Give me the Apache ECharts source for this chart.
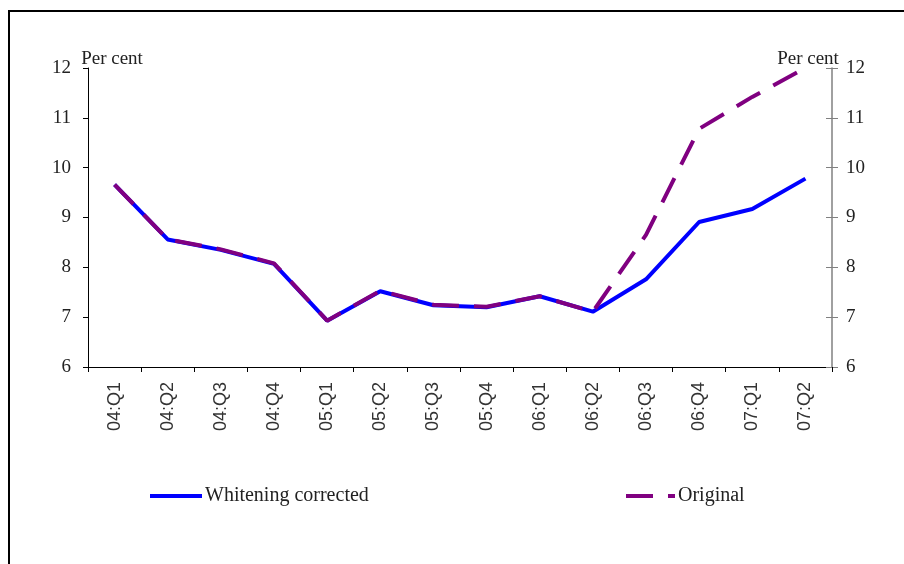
<!DOCTYPE html>
<html>
<head>
<meta charset="utf-8">
<script src="https://cdn.jsdelivr.net/npm/echarts@6/dist/echarts.min.js"></script>
<style>
html,body{margin:0;padding:0;background:#fff;}
#chart{width:904px;height:564px;}
</style>
</head>
<body>
<div id="chart"></div>
<script>
const categories = ['04:Q1','04:Q2','04:Q3','04:Q4','05:Q1','05:Q2','05:Q3','05:Q4','06:Q1','06:Q2','06:Q3','06:Q4','07:Q1','07:Q2'];
const whitening = [9.66, 8.56, 8.35, 8.07, 6.93, 7.52, 7.24, 7.2, 7.42, 7.11, 7.76, 8.91, 9.17, 9.78];
const original = [9.66, 8.56, 8.36, 8.08, 6.93, 7.53, 7.25, 7.21, 7.42, 7.11, 8.65, 10.78, 11.42, 12.0];
const yMin = 6, yMax = 12, yStep = 1;
const unitLabel = 'Per cent';
const seriesNames = ['Whitening corrected', 'Original'];

const serif = 'Liberation Serif';
const chart = echarts.init(document.getElementById('chart'), null, {renderer: 'canvas'});
const legendCommon = {
  itemHeight: 14, itemGap: 10,
  itemStyle: {opacity: 0, borderWidth: 0},
  lineStyle: {width: 4, cap: 'butt'},
  textStyle: {fontFamily: serif, fontSize: 20, color: '#222', padding: [0, 0, 0, -2]}
};
const option = {
  animation: false,
  backgroundColor: '#ffffff',
  grid: {left: 88, right: 72, top: 68, bottom: 197, containLabel: false},
  graphic: [
    {type: 'rect', shape: {x: 9, y: 11, width: 1000, height: 1000}, style: {fill: 'none', stroke: '#000', lineWidth: 2}, z: 0},
    {type: 'text', x: 112, y: 59, style: {text: unitLabel, font: '19px "Liberation Serif"', fill: '#222', align: 'center', verticalAlign: 'middle'}},
    {type: 'text', x: 808, y: 59, style: {text: unitLabel, font: '19px "Liberation Serif"', fill: '#222', align: 'center', verticalAlign: 'middle'}}
  ],
  legend: [
    Object.assign({}, legendCommon, {data: [seriesNames[0]], left: 143, top: 481, itemWidth: 52}),
    Object.assign({}, legendCommon, {data: [seriesNames[1]], left: 619, top: 481, itemWidth: 49})
  ],
  xAxis: {
    type: 'category', data: categories, boundaryGap: true,
    axisLine: {lineStyle: {color: '#000', width: 1}},
    axisTick: {show: true, length: 5, inside: false, lineStyle: {color: '#000'}},
    axisLabel: {rotate: 90, margin: 15, fontFamily: 'Liberation Sans', fontSize: 18, color: '#333', interval: 0},
    splitLine: {show: false}
  },
  yAxis: [
    {type: 'value', position: 'left', min: yMin, max: yMax, interval: yStep,
     axisLine: {show: true, lineStyle: {color: '#000', width: 1}},
     axisTick: {show: true, length: 5, lineStyle: {color: '#000'}},
     axisLabel: {margin: 17, fontFamily: serif, fontSize: 19, color: '#222'},
     splitLine: {show: false}},
    {type: 'value', position: 'right', min: yMin, max: yMax, interval: yStep,
     axisLine: {show: true, lineStyle: {color: '#808080', width: 1.5}},
     axisTick: {show: true, length: 6, lineStyle: {color: '#808080'}},
     axisLabel: {margin: 14, fontFamily: serif, fontSize: 19, color: '#222'},
     splitLine: {show: false}},
    {type: 'value', position: 'right', min: yMin, max: yMax, interval: yStep,
     axisLine: {show: false},
     axisTick: {show: true, inside: true, length: 6, lineStyle: {color: '#808080'}},
     axisLabel: {show: false},
     splitLine: {show: false}}
  ],
  series: [
    {name: seriesNames[0], type: 'line', data: whitening, yAxisIndex: 0, symbol: 'none',
     lineStyle: {color: '#0000ff', width: 4, cap: 'butt'}, itemStyle: {color: '#0000ff'}, z: 2},
    {name: seriesNames[1], type: 'line', data: original, yAxisIndex: 0, symbol: 'none',
     lineStyle: {color: '#800080', width: 4, type: [27, 15], cap: 'butt'}, itemStyle: {color: '#800080'}, z: 3}
  ]
};
chart.setOption(option);
</script>
</body>
</html>
